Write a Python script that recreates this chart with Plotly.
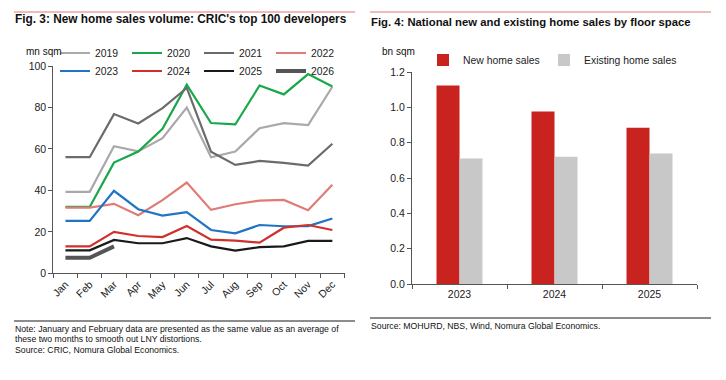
import plotly.graph_objects as go

W, H = 726, 380

months = ["Jan", "Feb", "Mar", "Apr", "May", "Jun", "Jul", "Aug", "Sep", "Oct", "Nov", "Dec"]

s2019 = [39.3, 39.3, 61.3, 58.8, 65.2, 80.0, 56.0, 58.7, 70.0, 72.4, 71.5, 90.0]
s2020 = [32.0, 32.0, 53.4, 58.7, 69.7, 91.0, 72.5, 71.8, 90.6, 86.3, 96.1, 90.1]
s2021 = [56.0, 56.0, 76.8, 72.3, 79.7, 89.4, 58.7, 52.3, 54.2, 53.3, 52.0, 62.5]
s2022 = [31.7, 31.7, 33.5, 28.0, 35.3, 43.8, 30.6, 33.3, 35.1, 35.4, 30.4, 42.7]
s2023 = [25.3, 25.3, 39.8, 30.9, 27.8, 29.5, 20.9, 19.3, 23.3, 22.7, 22.8, 26.4]
s2024 = [13.0, 13.0, 20.0, 18.0, 17.5, 22.8, 16.2, 15.8, 14.8, 22.0, 23.3, 20.9]
s2025 = [11.1, 11.1, 16.1, 14.5, 14.5, 17.0, 13.0, 10.9, 12.6, 13.0, 15.6, 15.6]
s2026 = [7.5, 7.5, 13.0]

years = ["2023", "2024", "2025"]
new_sales = [1.124, 0.976, 0.884]
existing_sales = [0.71, 0.72, 0.738]

FONT = "Arial, Liberation Sans, sans-serif"

series = [
    ("2019", s2019, "#a9a9a9", 2.2, "legend"),
    ("2020", s2020, "#18a84a", 2.2, "legend"),
    ("2021", s2021, "#6b6b6b", 2.2, "legend"),
    ("2022", s2022, "#e07b77", 2.2, "legend"),
    ("2023", s2023, "#1f74c4", 2.2, "legend3"),
    ("2024", s2024, "#d0302c", 2.2, "legend3"),
    ("2025", s2025, "#1a1a1a", 2.2, "legend3"),
    ("2026", s2026, "#555555", 4.0, "legend3"),
]

fig = go.Figure()
for name, vals, color, width, lg in series:
    fig.add_trace(go.Scatter(
        x=months[:len(vals)], y=vals, name=name, mode="lines",
        line=dict(color=color, width=width), xaxis="x", yaxis="y", legend=lg,
    ))

fig.add_trace(go.Bar(x=years, y=new_sales, name="New home sales",
                     marker=dict(color="#c8231e", line=dict(width=0)),
                     xaxis="x2", yaxis="y2", legend="legend2", legendwidth=76))
fig.add_trace(go.Bar(x=years, y=existing_sales, name="Existing home sales",
                     marker=dict(color="#c8c8c8", line=dict(width=0)),
                     xaxis="x2", yaxis="y2", legend="legend2", legendwidth=110))

axis_common = dict(showgrid=False, zeroline=False, showline=True, linecolor="#555555",
                   linewidth=1, ticks="outside", ticklen=4, tickcolor="#555555",
                   tickfont=dict(family=FONT, size=10.5, color="#222222"))

def px_x(p):
    return p / W

def px_y(p):
    return 1 - p / H

legend_common = dict(orientation="h", xanchor="left", yanchor="middle",
                     entrywidthmode="pixels", bgcolor="rgba(0,0,0,0)",
                     font=dict(family=FONT, size=10.4, color="#222222"), traceorder="normal",
                     itemclick=False, borderwidth=0)

fig.update_layout(
    width=W, height=H,
    margin=dict(l=0, r=0, t=0, b=0, autoexpand=False),
    paper_bgcolor="white", plot_bgcolor="white",
    font=dict(family=FONT, color="#222222"),
    barmode="group", bargap=0.516, bargroupgap=0,
    xaxis=dict(domain=[px_x(53.3), px_x(344.5)], anchor="y", type="category",
               categoryorder="array", categoryarray=months,
               range=[-0.5, 11.5], tickson="boundaries", tickangle=-45, **axis_common),
    yaxis=dict(domain=[px_y(273.3), px_y(66)], anchor="x", range=[0, 100],
               tickvals=[0, 20, 40, 60, 80, 100], **axis_common),
    xaxis2=dict(domain=[px_x(412), px_x(697)], anchor="y2", type="category",
                range=[-0.5, 2.5], tickson="boundaries", **axis_common),
    yaxis2=dict(domain=[px_y(284), px_y(72)], anchor="x2", range=[0, 1.2],
                tickvals=[0, 0.2, 0.4, 0.6, 0.8, 1.0, 1.2], tickformat=".1f", **axis_common),
    legend=dict(x=px_x(55), y=px_y(53), entrywidth=27, **legend_common),
    legend3=dict(x=px_x(55), y=px_y(71), entrywidth=27, **legend_common),
    legend2=dict(x=px_x(423), y=px_y(60), entrywidth=76, **legend_common),
    showlegend=True,
)

shapes = [
    dict(type="line", xref="paper", yref="paper", x0=px_x(14), x1=px_x(355), y0=px_y(12), y1=px_y(12),
         line=dict(color="#e8a3a3", width=1.5)),
    dict(type="line", xref="paper", yref="paper", x0=px_x(370), x1=px_x(711), y0=px_y(12), y1=px_y(12),
         line=dict(color="#e8a3a3", width=1.5)),
    dict(type="line", xref="paper", yref="paper", x0=px_x(14), x1=px_x(355), y0=px_y(321), y1=px_y(321),
         line=dict(color="#8c8c8c", width=2)),
    dict(type="line", xref="paper", yref="paper", x0=px_x(370), x1=px_x(711), y0=px_y(318), y1=px_y(318),
         line=dict(color="#8c8c8c", width=2)),
]
fig.update_layout(shapes=shapes)

def ann(text, x, y, size, bold=False):
    t = f"<b>{text}</b>" if bold else text
    return dict(text=t, xref="paper", yref="paper", x=px_x(x), y=px_y(y), xanchor="left",
                yanchor="middle", showarrow=False, font=dict(family=FONT, size=size, color="#111111"))

annotations = [
    ann("Fig. 3: New home sales volume: CRIC's top 100 developers", 13, 19, 11.85, True),
    ann("Fig. 4: National new and existing home sales by floor space", 369, 22, 11.3, True),
    ann("mn sqm", 24, 52, 10),
    ann("bn sqm", 380, 52, 10),
    ann("Note: January and February data are presented as the same value as an average of", 13, 328.5, 8.7),
    ann("these two months to smooth out LNY distortions.", 13, 338.5, 8.7),
    ann("Source: CRIC, Nomura Global Economics.", 13, 349.5, 8.7),
    ann("Source: MOHURD, NBS, Wind, Nomura Global Economics.", 369, 325.5, 8.7),
]
fig.update_layout(annotations=annotations)

fig.write_html("out.html", config={"displayModeBar": False},
               post_script="document.body.style.margin='0';document.body.style.overflow='hidden';")
